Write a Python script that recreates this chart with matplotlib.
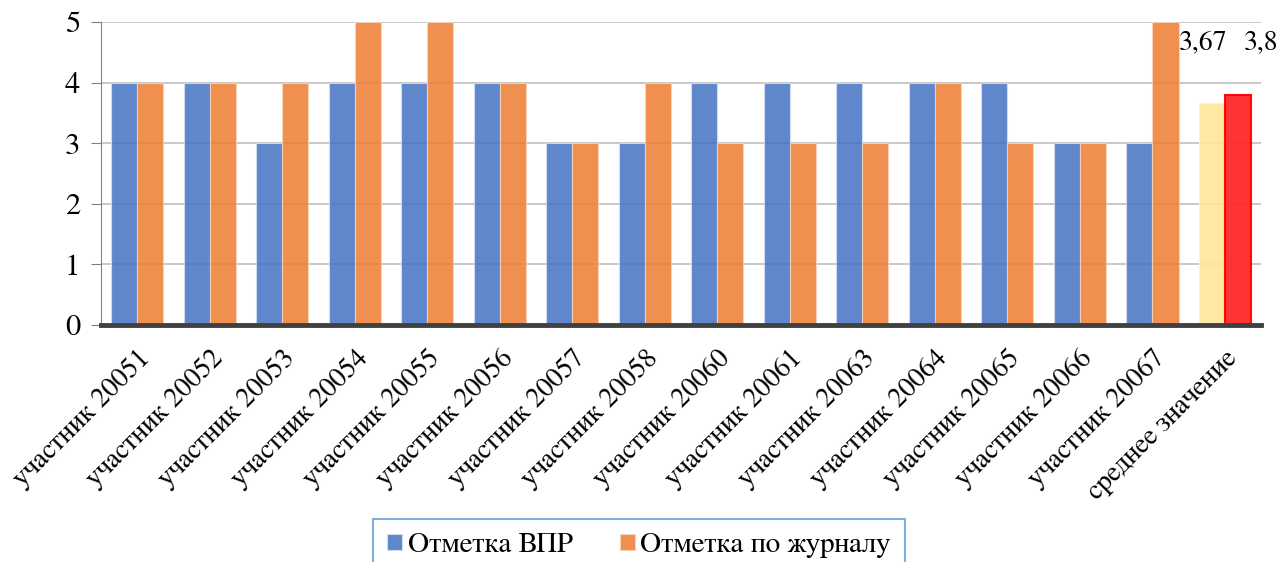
import matplotlib.pyplot as plt
import numpy as np

plt.rcParams['font.family'] = ['FreeSerif', 'Liberation Serif', 'DejaVu Serif']

categories = ['участник 20051', 'участник 20052', 'участник 20053', 'участник 20054',
              'участник 20055', 'участник 20056', 'участник 20057', 'участник 20058',
              'участник 20060', 'участник 20061', 'участник 20063', 'участник 20064',
              'участник 20065', 'участник 20066', 'участник 20067', 'среднее значение']
vpr = [4, 4, 3, 4, 4, 4, 3, 3, 4, 4, 4, 4, 4, 3, 3]
journal = [4, 4, 4, 5, 5, 4, 3, 4, 3, 3, 3, 4, 3, 3, 5]
mean_vpr = 3.67
mean_journal = 3.8
mean_labels = ['3,67', '3,8']

fig = plt.figure(figsize=(12.83, 5.62), dpi=100)
ax = fig.add_axes([0.0787, 0.4217, 0.9043, 0.5392])

x = np.arange(len(vpr))
w = 0.36
ax.bar(x - w/2, vpr, w, color='#4472C4', alpha=0.85, edgecolor='#D6E0F2', linewidth=0.8,
       label='Отметка ВПР', zorder=2)
ax.bar(x + w/2, journal, w, color='#ED7D31', alpha=0.85, edgecolor='#F8D4BC', linewidth=0.8,
       label='Отметка по журналу', zorder=2)

xm = len(vpr)
ax.bar(xm - w/2, mean_vpr, w, color='#FFE699', alpha=0.9, edgecolor='#FFF2CC', linewidth=0.8, zorder=2)
ax.bar(xm + w/2, mean_journal, w, color='#FF2A2A', alpha=0.95, edgecolor='#FF0000', linewidth=1.5, zorder=2)
ax.text(xm - w/2 - 0.12, 4.46, mean_labels[0], ha='center', va='bottom', fontsize=20)
ax.text(xm + w/2 + 0.32, 4.46, mean_labels[1], ha='center', va='bottom', fontsize=20, clip_on=False)

ax.set_xlim(-0.5, len(categories) - 0.5)
ax.set_ylim(0, 5)
ax.set_yticks(range(6))
ax.yaxis.grid(True, color='#BFBFBF', linewidth=1.2, zorder=0)
ax.set_axisbelow(True)

ax.set_xticks(np.arange(len(categories)))
ax.set_xticklabels(categories, rotation=45, ha='right', rotation_mode='anchor', fontsize=20)
ax.tick_params(axis='x', length=0, pad=15)
ax.tick_params(axis='y', labelsize=22, length=7, color='#808080', pad=8)

for s in ['top', 'right']:
    ax.spines[s].set_visible(False)
ax.spines['left'].set_color('#808080')
ax.spines['bottom'].set_color('#404040')
ax.spines['bottom'].set_linewidth(3.5)
ax.spines['bottom'].set_zorder(3)

leg = fig.legend(loc='upper center', bbox_to_anchor=(0.498, 0.077), ncol=2, fontsize=21,
                 frameon=True, fancybox=False, edgecolor='#5B9BD5', handlelength=0.5,
                 handleheight=0.5, handletextpad=0.2, columnspacing=1.6,
                 borderpad=0.5, borderaxespad=0)
leg.get_frame().set_linewidth(1.5)

fig.savefig('out.png', dpi=100)
